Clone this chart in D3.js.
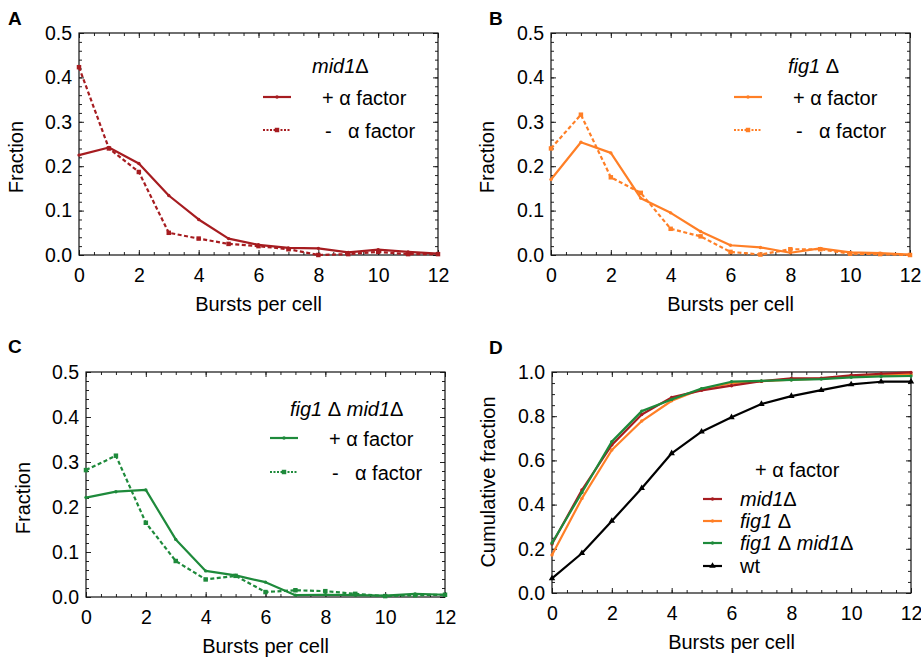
<!DOCTYPE html>
<html>
<head>
<meta charset="utf-8">
<script src="https://cdn.jsdelivr.net/npm/d3@7"></script>
<style>
  body { margin: 0; background: #fff; }
  svg text { font-family: "Liberation Sans", Arial, sans-serif; fill: #000; }
</style>
</head>
<body>
<svg id="fig" width="921" height="659"></svg>
<script>

// ---- data ----
var bursts = [0, 1, 2, 3, 4, 5, 6, 7, 8, 9, 10, 11, 12];

// A: mid1 delta
var mid1Plus  = [0.225, 0.242, 0.206, 0.134, 0.080, 0.037, 0.023, 0.016, 0.015, 0.006, 0.012, 0.007, 0.003];
var mid1Minus = [0.423, 0.240, 0.187, 0.050, 0.037, 0.025, 0.020, 0.013, 0.000, 0.002, 0.007, 0.002, 0.002];
// B: fig1 delta
var fig1Plus  = [0.170, 0.254, 0.230, 0.128, 0.095, 0.053, 0.022, 0.017, 0.005, 0.015, 0.006, 0.004, 0.001];
var fig1Minus = [0.240, 0.316, 0.175, 0.140, 0.059, 0.042, 0.007, 0.001, 0.013, 0.013, 0.003, 0.002, 0.000];
// C: fig1 delta mid1 delta
var dblPlus   = [0.221, 0.234, 0.238, 0.128, 0.058, 0.048, 0.033, 0.004, 0.005, 0.004, 0.003, 0.007, 0.005];
var dblMinus  = [0.282, 0.314, 0.165, 0.080, 0.039, 0.047, 0.011, 0.015, 0.013, 0.007, 0.002, 0.004, 0.005];
// D: cumulative, + alpha factor
var cumMid1 = [0.222, 0.466, 0.670, 0.808, 0.885, 0.917, 0.938, 0.958, 0.971, 0.972, 0.985, 0.992, 0.998];
var cumFig1 = [0.172, 0.428, 0.647, 0.778, 0.870, 0.923, 0.950, 0.958, 0.965, 0.970, 0.980, 0.986, 0.990];
var cumDbl  = [0.226, 0.455, 0.685, 0.823, 0.876, 0.925, 0.956, 0.960, 0.964, 0.968, 0.976, 0.980, 0.982];
var cumWt   = [0.066, 0.180, 0.326, 0.474, 0.632, 0.730, 0.795, 0.855, 0.891, 0.918, 0.944, 0.956, 0.956];

var xTicks = [0, 2, 4, 6, 8, 10, 12];
var fracTicks = [0, 0.1, 0.2, 0.3, 0.4, 0.5];
var cumTicks = [0, 0.2, 0.4, 0.6, 0.8, 1.0];

var RED = "#a61c20", ORANGE = "#ff7f26", GREEN = "#1e8a3b", BLACK = "#000";

var svg = d3.select("#fig");

/////
// draw one panel frame with axes, returns scales
/////
function panel(p) {
  var x = d3.scaleLinear().domain([0, 12]).range([p.left, p.right]),
      y = d3.scaleLinear().domain([0, p.ymax]).range([p.bottom, p.top]);
  var g = svg.append("g");

  var xMinor = d3.range(0, 12.01, 0.5),
      yMinor = d3.range(0, p.ymax + 1e-9, p.yminor);

  // minor ticks on all four sides, pointing inward
  g.append("g").attr("transform", "translate(0," + p.bottom + ")")
    .call(d3.axisBottom(x).tickValues(xMinor).tickSize(-3).tickFormat(""));
  g.append("g").attr("transform", "translate(0," + p.top + ")")
    .call(d3.axisTop(x).tickValues(xMinor).tickSize(-3).tickFormat(""));
  g.append("g").attr("transform", "translate(" + p.left + ",0)")
    .call(d3.axisLeft(y).tickValues(yMinor).tickSize(-3).tickFormat(""));
  g.append("g").attr("transform", "translate(" + p.right + ",0)")
    .call(d3.axisRight(y).tickValues(yMinor).tickSize(-3).tickFormat(""));

  // major ticks + labels
  g.append("g").attr("transform", "translate(0," + p.bottom + ")")
    .call(d3.axisBottom(x).tickValues(xTicks).tickSize(-5).tickPadding(13).tickFormat(d3.format("d")));
  g.append("g").attr("transform", "translate(0," + p.top + ")")
    .call(d3.axisTop(x).tickValues(xTicks).tickSize(-5).tickFormat(""));
  g.append("g").attr("transform", "translate(" + p.left + ",0)")
    .call(d3.axisLeft(y).tickValues(p.yticks).tickSize(-5).tickPadding(7).tickFormat(d3.format(".1f")));
  g.append("g").attr("transform", "translate(" + p.right + ",0)")
    .call(d3.axisRight(y).tickValues(p.yticks).tickSize(-5).tickFormat(""));

  g.selectAll(".domain").remove();
  g.selectAll(".tick line").attr("stroke", "#222");
  g.selectAll(".tick text").attr("font-size", 19.5).attr("font-family", "Liberation Sans, Arial, sans-serif").attr("fill", "#000");

  g.append("rect")
    .attr("x", p.left).attr("y", p.top)
    .attr("width", p.right - p.left).attr("height", p.bottom - p.top)
    .attr("fill", "none").attr("stroke", "#111").attr("stroke-width", 1.2);

  // axis titles
  g.append("text")
    .attr("x", (p.left + p.right) / 2).attr("y", p.bottom + 56)
    .attr("text-anchor", "middle").attr("font-size", 20)
    .text("Bursts per cell");
  g.append("text")
    .attr("transform", "translate(" + p.ytx + "," + p.yty + ") rotate(-90)")
    .attr("text-anchor", "middle").attr("font-size", 20)
    .text(p.ytitle);

  // panel letter
  svg.append("text")
    .attr("x", p.lx).attr("y", p.ly)
    .attr("font-size", 19).attr("font-weight", "bold")
    .text(p.letter);

  return {x: x, y: y};
}

function series(sc, vals, color, dashed, marker) {
  var pts = bursts.map(function(b, i) { return [sc.x(b), sc.y(vals[i])]; });
  svg.append("path")
    .attr("d", d3.line()(pts))
    .attr("fill", "none")
    .attr("stroke", color)
    .attr("stroke-width", 2.2)
    .attr("stroke-linejoin", "round")
    .attr("stroke-dasharray", dashed ? "4,2.5" : null);
  drawMarkers(pts, color, marker);
}

function drawMarkers(pts, color, marker) {
  var sym = marker === "square" ? d3.symbolSquare :
            marker === "triangle" ? d3.symbolTriangle : d3.symbolCircle;
  var size = marker === "square" ? 20 : marker === "triangle" ? 18 : 9;
  svg.append("g").selectAll("path")
    .data(pts)
    .enter().append("path")
      .attr("transform", function(d) { return "translate(" + d[0] + "," + d[1] + ")"; })
      .attr("d", d3.symbol().type(sym).size(size))
      .attr("fill", color);
}

// legend entry: short line with a marker in the middle
function legendLine(x0, x1, yy, color, dashed, marker) {
  svg.append("line")
    .attr("x1", x0).attr("x2", x1).attr("y1", yy).attr("y2", yy)
    .attr("stroke", color).attr("stroke-width", 2.2)
    .attr("stroke-dasharray", dashed ? "2,1.5" : null);
  drawMarkers([[(x0 + x1) / 2, yy]], color, marker);
}

// italic strain name with upright delta
function strainLabel(x, y, parts, size) {
  var t = svg.append("text").attr("x", x).attr("y", y).attr("font-size", size);
  parts.forEach(function(s) {
    t.append("tspan")
      .attr("font-style", s === "\u0394" ? "normal" : "italic")
      .text(s);
  });
}

function pmLegend(lx0, title, titleX, titleY, row1, row2, color) {
  strainLabel(titleX, titleY, title, 20);
  legendLine(lx0, lx0 + 28, row1, color, false, "circle");
  svg.append("text").attr("x", lx0 + 59).attr("y", row1 + 8).attr("font-size", 20)
    .text("+ \u03b1 factor");
  legendLine(lx0, lx0 + 28, row2, color, true, "square");
  svg.append("text").attr("x", lx0 + 62).attr("y", row2 + 8).attr("font-size", 20)
    .text("-");
  svg.append("text").attr("x", lx0 + 85).attr("y", row2 + 8).attr("font-size", 20)
    .text("\u03b1 factor");
}

// ---- Panel A ----
var sA = panel({left: 79, right: 438, top: 33, bottom: 255, ymax: 0.5, yminor: 0.02,
                yticks: fracTicks, ytitle: "Fraction", ytx: 23, yty: 157,
                letter: "A", lx: 8, ly: 25});
series(sA, mid1Plus, RED, false, "circle");
series(sA, mid1Minus, RED, true, "square");
pmLegend(263, ["mid1", "\u0394"], 312, 73, 97, 130, RED);

// ---- Panel B ----
var sB = panel({left: 551, right: 910, top: 33, bottom: 255, ymax: 0.5, yminor: 0.02,
                yticks: fracTicks, ytitle: "Fraction", ytx: 494, yty: 157,
                letter: "B", lx: 489, ly: 25});
series(sB, fig1Plus, ORANGE, false, "circle");
series(sB, fig1Minus, ORANGE, true, "square");
pmLegend(734, ["fig1 ", "\u0394"], 788, 73, 97, 130, ORANGE);

// ---- Panel C ----
var sC = panel({left: 86, right: 445, top: 372, bottom: 597, ymax: 0.5, yminor: 0.02,
                yticks: fracTicks, ytitle: "Fraction", ytx: 30, yty: 498,
                letter: "C", lx: 8, ly: 353});
series(sC, dblPlus, GREEN, false, "circle");
series(sC, dblMinus, GREEN, true, "square");
pmLegend(270, ["fig1 ", "\u0394", " mid1", "\u0394"], 290, 416, 438, 472, GREEN);

// ---- Panel D ----
var sD = panel({left: 552, right: 911, top: 372, bottom: 593, ymax: 1.0, yminor: 0.05,
                yticks: cumTicks, ytitle: "Cumulative fraction", ytx: 495, yty: 482,
                letter: "D", lx: 489, ly: 354});
series(sD, cumWt, BLACK, false, "triangle");
series(sD, cumFig1, ORANGE, false, "circle");
series(sD, cumMid1, RED, false, "circle");
series(sD, cumDbl, GREEN, false, "circle");

svg.append("text").attr("x", 755).attr("y", 477).attr("font-size", 20).text("+ \u03b1 factor");
var dLegend = [
  {parts: ["mid1", "\u0394"], color: RED, marker: "circle", y: 499},
  {parts: ["fig1 ", "\u0394"], color: ORANGE, marker: "circle", y: 521},
  {parts: ["fig1 ", "\u0394", " mid1", "\u0394"], color: GREEN, marker: "circle", y: 543},
  {parts: null, color: BLACK, marker: "triangle", y: 566}
];
dLegend.forEach(function(d) {
  legendLine(703, 722, d.y, d.color, false, d.marker);
  if (d.parts) {
    strainLabel(740, d.y + 7, d.parts, 20);
  } else {
    svg.append("text").attr("x", 740).attr("y", d.y + 7).attr("font-size", 20).text("wt");
  }
});

</script>
</body>
</html>
